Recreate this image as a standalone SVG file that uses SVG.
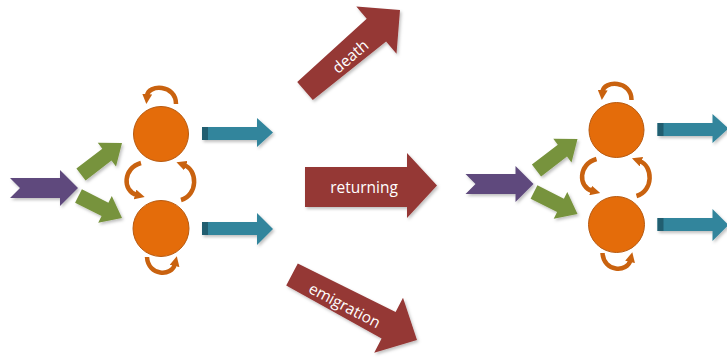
<svg xmlns="http://www.w3.org/2000/svg" width="727" height="358" viewBox="0 0 727 358">
<defs>
<style>
.state{fill:#E46C0A;stroke:#B85A10;stroke-width:1}
.loop{fill:none;stroke:#C9620F;stroke-width:4.5;stroke-linecap:butt}
.in{fill:#5F4A7D}
.split{fill:#77933C}
.out{fill:#31859C}
.outdark{fill:#215E70}
.big{fill:#953735}
.lbl{fill:#FFFFFF;font-family:"Open Sans","Liberation Sans",sans-serif;font-size:15.5px;text-anchor:middle;dominant-baseline:central}
</style>
<marker id="ah" viewBox="0 0 10 10" refX="2" refY="5" markerWidth="10" markerHeight="10" markerUnits="userSpaceOnUse" orient="auto">
<path d="M0,0 L10,5 L0,10 z" fill="#C9620F"/>
</marker>
<filter id="sh" x="-10%" y="-10%" width="130%" height="130%">
<feDropShadow dx="1.5" dy="2" stdDeviation="1.5" flood-color="#000" flood-opacity="0.25"/>
</filter>
</defs>
<rect width="727" height="358" fill="#FFFFFF"/>

<g id="left-system">
  <g id="L-input"><polygon class="in" filter="url(#sh)" points="10,178 60,178 60,170 78,188 60,206 60,198 10,198 20,188"/></g>
  <g id="L-split-up"><polygon class="split" filter="url(#sh)" points="76.4,168.6 102.3,148.7 97.8,142.7 122,143 116,166.5 111.5,160.5 85.6,180.4"/></g>
  <g id="L-split-down"><polygon class="split" filter="url(#sh)" points="81.9,189.3 108.4,202.7 111.8,196 122,218 98.2,222.8 101.6,216.1 75.1,202.7"/></g>
  <g id="L-state-top"><circle class="state" cx="161" cy="134" r="27.5"/></g>
  <g id="L-state-bottom"><circle class="state" cx="161" cy="228.5" r="28"/></g>
  <g id="L-out-top"><polygon class="out" filter="url(#sh)" points="202,127 257,127 257,118 273,132.5 257,147 257,140 202,140"/><rect class="outdark" x="202" y="127" width="6" height="13"/></g>
  <g id="L-out-bottom"><polygon class="out" filter="url(#sh)" points="202,222 257,222 257,213 273,229 257,245 257,235 202,235"/><rect class="outdark" x="202" y="222" width="6" height="13"/></g>
  <g id="L-connectors">
    <path class="loop" marker-end="url(#ah)" d="M176,104 C176,84 148,84 147,96"/>
    <path class="loop" marker-end="url(#ah)" d="M141,163 C123,168 122,191 137,195"/>
    <path class="loop" marker-end="url(#ah)" d="M181,200 C198,195 198,170 184,165"/>
    <path class="loop" marker-end="url(#ah)" d="M147,257 C148,276 172,277 175,264"/>
  </g>
</g>

<g id="transitions">
  <g id="death">
    <polygon class="big" filter="url(#sh)" points="297.2,81.9 366.7,18.7 356.3,6.5 400,10 396.5,53.7 386.1,41.5 312.8,100.1"/>
    <text class="lbl" x="350" y="56" transform="rotate(-40.4 350 56)">death</text>
  </g>
  <g id="returning">
    <polygon class="big" filter="url(#sh)" points="305,167 407,167 407,153 437,185.5 407,218 407,207 305,207"/>
    <text class="lbl" x="364" y="187">returning</text>
  </g>
  <g id="emigration">
    <polygon class="big" filter="url(#sh)" points="297.8,263.4 395.6,311.9 403,297.7 417,340 374.2,352.7 381.6,338.5 286.2,285.6"/>
    <text class="lbl" x="345" y="305" transform="rotate(27.8 345 305)">emigration</text>
  </g>
</g>

<g id="right-system" transform="translate(455.5,-4)">
  <g id="R-input"><polygon class="in" filter="url(#sh)" points="10,178 60,178 60,170 78,188 60,206 60,198 10,198 20,188"/></g>
  <g id="R-split-up"><polygon class="split" filter="url(#sh)" points="76.4,168.6 102.3,148.7 97.8,142.7 122,143 116,166.5 111.5,160.5 85.6,180.4"/></g>
  <g id="R-split-down"><polygon class="split" filter="url(#sh)" points="81.9,189.3 108.4,202.7 111.8,196 122,218 98.2,222.8 101.6,216.1 75.1,202.7"/></g>
  <g id="R-state-top"><circle class="state" cx="161" cy="134" r="27.5"/></g>
  <g id="R-state-bottom"><circle class="state" cx="161" cy="228.5" r="28"/></g>
  <g id="R-out-top"><polygon class="out" filter="url(#sh)" points="202,127 257,127 257,118 273,132.5 257,147 257,140 202,140"/><rect class="outdark" x="202" y="127" width="6" height="13"/></g>
  <g id="R-out-bottom"><polygon class="out" filter="url(#sh)" points="202,222 257,222 257,213 273,229 257,245 257,235 202,235"/><rect class="outdark" x="202" y="222" width="6" height="13"/></g>
  <g id="R-connectors">
    <path class="loop" marker-end="url(#ah)" d="M176,104 C176,84 148,84 147,96"/>
    <path class="loop" marker-end="url(#ah)" d="M141,163 C123,168 122,191 137,195"/>
    <path class="loop" marker-end="url(#ah)" d="M181,200 C198,195 198,170 184,165"/>
    <path class="loop" marker-end="url(#ah)" d="M147,257 C148,276 172,277 175,264"/>
  </g>
</g>
</svg>
